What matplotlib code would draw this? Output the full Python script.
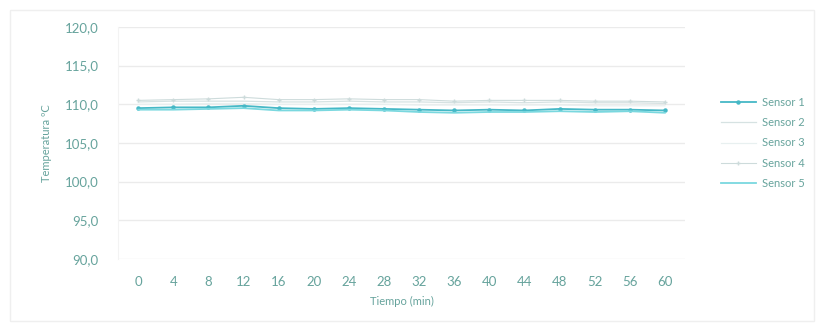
import matplotlib
matplotlib.use("Agg")
import matplotlib.pyplot as plt
from matplotlib.lines import Line2D

# Tiempo (min), readings every 4 minutes
tiempo = [0, 4, 8, 12, 16, 20, 24, 28, 32, 36, 40, 44, 48, 52, 56, 60]

sensor_1 = [109.5, 109.6, 109.6, 109.8, 109.5, 109.4, 109.5, 109.4, 109.3, 109.2, 109.3, 109.2, 109.4, 109.3, 109.3, 109.2]
sensor_2 = [110.3, 110.4, 110.4, 110.4, 110.3, 110.3, 110.4, 110.3, 110.3, 110.2, 110.3, 110.2, 110.3, 110.2, 110.2, 110.1]
sensor_3 = [110.0, 110.0, 110.1, 110.1, 110.0, 110.0, 110.0, 110.0, 109.9, 109.9, 109.9, 109.9, 109.9, 109.8, 109.8, 109.8]
sensor_4 = [110.5, 110.6, 110.7, 110.9, 110.6, 110.6, 110.7, 110.6, 110.6, 110.4, 110.5, 110.5, 110.5, 110.4, 110.4, 110.3]
sensor_5 = [109.3, 109.3, 109.4, 109.5, 109.2, 109.2, 109.3, 109.2, 109.0, 108.9, 109.0, 109.0, 109.1, 109.0, 109.1, 108.9]

series = [
    ("Sensor 1", sensor_1, "#45b8c6", 1.3, "o", 2.2),
    ("Sensor 2", sensor_2, "#d6e2e2", 0.9, None, 0),
    ("Sensor 3", sensor_3, "#e8f0f0", 0.9, None, 0),
    ("Sensor 4", sensor_4, "#cddbdb", 0.8, "+", 2.5),
    ("Sensor 5", sensor_5, "#7ad8df", 1.3, None, 0),
]

text_color = "#66a39c"
plt.rcParams["font.family"] = ["Lato", "DejaVu Sans"]

fig = plt.figure(figsize=(8.22, 3.24), dpi=100)
ax = fig.add_axes([0.1436, 0.2006, 0.6898, 0.7164])

# faint outer frame
fig.patches.append(plt.Rectangle((0.012, 0.008), 0.978, 0.962, transform=fig.transFigure,
                                 fill=False, edgecolor="#efefef", linewidth=1.0))

for name, vals, color, lw, marker, ms in series:
    ax.plot(tiempo, vals, color=color, lw=lw, marker=marker, markersize=ms, label=name)

ax.set_xlim(-2.3, 62.3)
ax.set_ylim(90, 120)
ax.set_yticks([90, 95, 100, 105, 110, 115, 120])
ax.set_yticklabels([f"{v:.1f}".replace(".", ",") for v in range(90, 121, 5)])
ax.set_xticks(tiempo)
ax.set_xticklabels([str(t) for t in tiempo])

ax.grid(axis="y", color="#ebebeb", lw=1.0)
ax.set_axisbelow(True)
for s in ["top", "right", "bottom"]:
    ax.spines[s].set_visible(False)
ax.spines["left"].set_color("#f3f3f3")
ax.tick_params(axis="both", length=0, labelsize=9.5, labelcolor=text_color)
ax.tick_params(axis="y", pad=14)
ax.tick_params(axis="x", pad=12)

ax.set_xlabel("Tiempo (min)", fontsize=8, color=text_color, labelpad=6)
ax.set_ylabel("Temperatura ºC", fontsize=8, color=text_color, labelpad=9)

handles = [Line2D([], [], color=c, lw=lw, marker=m, markersize=ms) for _, _, c, lw, m, ms in series]
leg = ax.legend(handles, [s[0] for s in series], loc="center left", bbox_to_anchor=(1.045, 0.5),
                frameon=False, fontsize=8, handlelength=3.2, labelspacing=0.85, handletextpad=0.5)
for t in leg.get_texts():
    t.set_color(text_color)

fig.savefig("out.png", dpi=100)
